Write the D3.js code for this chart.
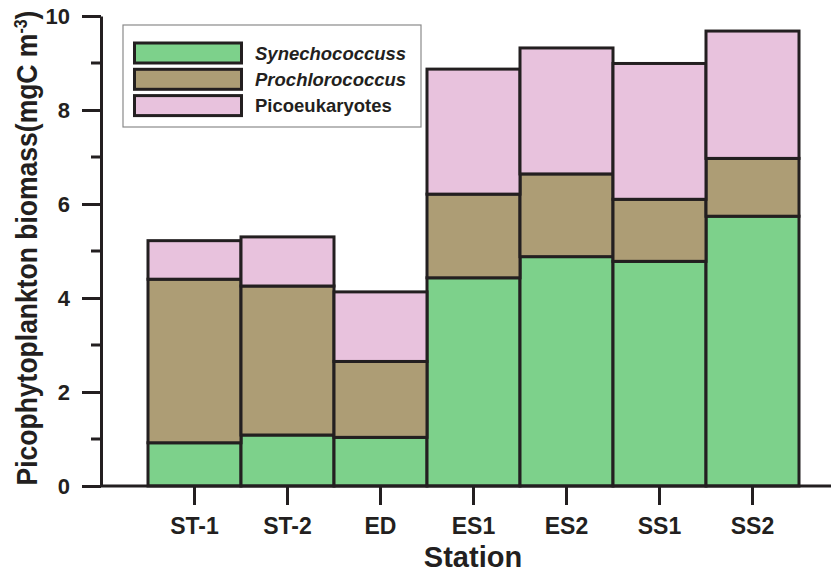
<!DOCTYPE html>
<html>
<head>
<meta charset="utf-8">
<script src="https://cdn.jsdelivr.net/npm/d3@7"></script>
<style>
  body { margin: 0; background: #fff; }
  svg text { font-family: "Liberation Sans", Arial, sans-serif; font-weight: bold; fill: #231f20; }
</style>
</head>
<body>
<script>
// station data
var stations = ["ST-1", "ST-2", "ED", "ES1", "ES2", "SS1", "SS2"];
var synechococcus = [0.92, 1.085, 1.035, 4.43, 4.88, 4.78, 5.74];
var prochlorococcus = [3.48, 3.17, 1.615, 1.78, 1.76, 1.32, 1.23];
var picoeukaryotes = [0.82, 1.045, 1.48, 2.66, 2.68, 2.89, 2.71];
var seriesNames = ["Synechococcuss", "Prochlorococcus", "Picoeukaryotes"];
var colors = ["#7dd18b", "#ad9d75", "#e8c2dd"];
var yTicks = [0, 2, 4, 6, 8, 10];
var yMinor = [1, 3, 5, 7, 9];

var width = 837;
var height = 574;
var ink = "#231f20";

var rows = stations.map(function(s, i) {
  return {station: s, syn: synechococcus[i], pro: prochlorococcus[i], pico: picoeukaryotes[i]};
});
var stack = d3.stack().keys(["syn", "pro", "pico"]);
var layers = stack(rows);

var x = d3.scaleBand().domain(stations).range([148, 799]).padding(0);
var y = d3.scaleLinear().domain([0, 10]).range([486, 16]);

var svg = d3.select("body").append("svg")
    .attr("width", width)
    .attr("height", height);

// bars
svg.append("g").selectAll("g")
    .data(layers)
  .enter().append("g")
    .attr("fill", function(d, i) { return colors[i]; })
  .selectAll("rect")
    .data(function(d) { return d; })
  .enter().append("rect")
    .attr("x", function(d) { return x(d.data.station); })
    .attr("y", function(d) { return y(d[1]); })
    .attr("width", x.bandwidth())
    .attr("height", function(d) { return y(d[0]) - y(d[1]); })
    .attr("stroke", ink)
    .attr("stroke-width", 3);

// y axis
var yAxis = svg.append("g")
    .attr("transform", "translate(101,0)")
    .call(d3.axisLeft(y).tickValues(yTicks).tickSize(19).tickPadding(12).tickSizeOuter(0));
yAxis.select(".domain").attr("stroke", ink).attr("stroke-width", 3);
yAxis.selectAll(".tick line").attr("stroke", ink).attr("stroke-width", 3);
yAxis.selectAll(".tick text").style("font-size", "22px").attr("fill", ink);

svg.append("g")
    .attr("transform", "translate(101,0)")
  .selectAll("line")
    .data(yMinor)
  .enter().append("line")
    .attr("x1", -10).attr("x2", 0)
    .attr("y1", function(d) { return y(d); })
    .attr("y2", function(d) { return y(d); })
    .attr("stroke", ink).attr("stroke-width", 3);

// x axis
var xAxis = svg.append("g")
    .attr("transform", "translate(0,486)")
    .call(d3.axisBottom(x).tickSize(19).tickPadding(13).tickSizeOuter(0));
xAxis.select(".domain").remove();
xAxis.selectAll(".tick line").attr("stroke", ink).attr("stroke-width", 3);
xAxis.selectAll(".tick text").style("font-size", "23px").attr("fill", ink);

svg.append("line")
    .attr("x1", 100).attr("x2", 831)
    .attr("y1", y(0)).attr("y2", y(0))
    .attr("stroke", ink).attr("stroke-width", 3);

// axis titles
svg.append("text")
    .attr("x", 473).attr("y", 567)
    .attr("text-anchor", "middle")
    .style("font-size", "29px")
    .text("Station");

var yTitle = svg.append("text")
    .attr("transform", "translate(37,248) rotate(-90) scale(1,1.12)")
    .attr("text-anchor", "middle")
    .style("font-size", "26.5px");
yTitle.append("tspan").text("Picophytoplankton biomass(mgC m");
yTitle.append("tspan").attr("dy", -9).style("font-size", "16px").text("-3");
yTitle.append("tspan").attr("dy", 9).text(")");

// legend
var legend = svg.append("g");
legend.append("rect")
    .attr("x", 123).attr("y", 25)
    .attr("width", 298).attr("height", 102)
    .attr("fill", "#fff")
    .attr("stroke", "#8a8a8a").attr("stroke-width", 1.2);

var item = legend.selectAll("g.item")
    .data(seriesNames)
  .enter().append("g")
    .attr("class", "item")
    .attr("transform", function(d, i) { return "translate(0," + (53 + i * 26.3) + ")"; });

item.append("rect")
    .attr("x", 134.5).attr("y", -10)
    .attr("width", 107).attr("height", 20)
    .attr("fill", function(d, i) { return colors[i]; })
    .attr("stroke", ink).attr("stroke-width", 3);

item.append("text")
    .attr("x", 255).attr("y", 6.5)
    .style("font-size", "18.5px")
    .style("font-style", function(d, i) { return i < 2 ? "italic" : "normal"; })
    .text(function(d) { return d; });
</script>
</body>
</html>
